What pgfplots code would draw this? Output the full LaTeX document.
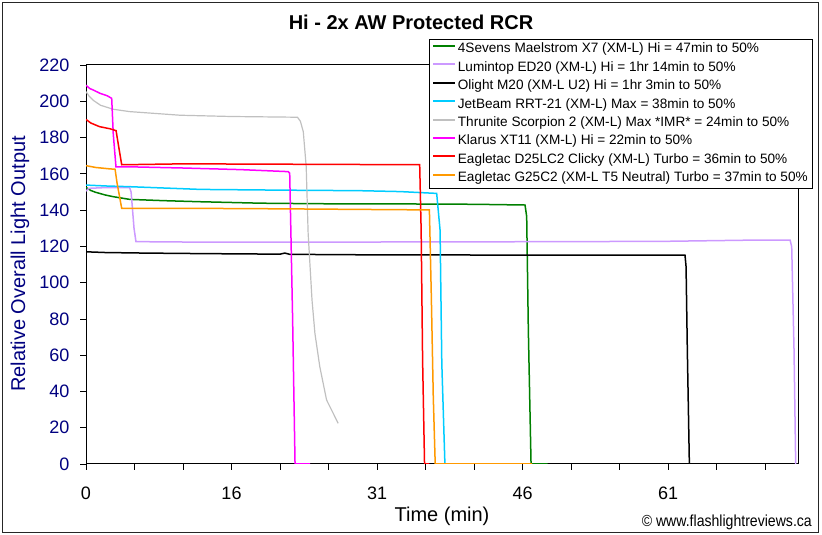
\documentclass[border=0pt]{standalone}
\usepackage{fontspec}
\setmainfont{Liberation Sans}
\usepackage{pgfplots}
\pgfplotsset{compat=1.18}
\definecolor{navy}{RGB}{0,0,128}
\definecolor{lgreen}{RGB}{0,128,0}
\definecolor{lav}{RGB}{204,153,255}
\definecolor{lcyan}{RGB}{0,204,255}
\definecolor{lgrey}{RGB}{192,192,192}
\definecolor{lorange}{RGB}{255,153,0}
\definecolor{lmagenta}{RGB}{255,0,255}

\begin{document}
\begin{tikzpicture}[x=1pt,y=1pt]
\useasboundingbox (0,0) rectangle (822,535);
\draw[line width=1.2pt, black!85] (2.5,2.5) rectangle (818.5,532.5);
\begin{axis}[
    at={(86pt,71pt)}, anchor=south west,
    scale only axis, width=712pt, height=399pt,
    xmin=0, xmax=73.4, ymin=0, ymax=220,
    xtick={0,15,30,45,60},
    xticklabels={0,16,31,46,61},
    minor xtick={5,10,20,25,35,40,50,55,65,70},
    ytick={0,20,...,220},
    tick pos=left, tick align=outside,
    major tick length=6pt, minor tick length=6pt,
    every tick/.style={black, line width=0.8pt},
    axis line style={black, line width=1pt},
    /pgf/number format/assume math mode=true,
    ticklabel style={font=\fontsize{18}{20}\selectfont},
    yticklabel style={text=navy, xshift=-7pt},
    xticklabel style={yshift=-13pt},
    legend style={at={(0.4817,1.065)}, anchor=north west,
        draw=black, line width=0.8pt, fill=white,
        font=\fontsize{13.6}{16}\selectfont,
        inner xsep=3pt, inner ysep=2pt, row sep=2.4pt,
        nodes={inner sep=1.5pt, text height=10pt, text depth=3pt}},
    legend cell align=left,
    legend image code/.code={\draw[#1, line width=2pt] (0pt,3.5pt) -- (22pt,3.5pt);},
    every axis plot/.append style={line width=1.5pt},
]
\addplot[lgreen] coordinates {
(0,152.5) (0.5,150.8) (1.0,149.8) (2.0,148.3) (2.8,147.4) (4.5,145.9) (8,145.2) (11.8,144.6) (18,143.8) (24,143.5) (32.4,143.4) (40,143.2) (45.26,142.8) (45.43,136.4) (45.6,73.9) (45.88,0) (47.6,0)
};
\addlegendentry{4Sevens Maelstrom X7 (XM-L) Hi = 47min to 50\%}
\addplot[lav] coordinates {
(0,150.5) (0.3,152) (2,152.4) (4.5,152.4) (4.65,150) (4.8,140) (4.95,130) (5.15,122.6) (10,122.4) (30,122.4) (50,122.6) (60,122.8) (69.5,123.5) (72.58,123.5) (72.75,119.8) (72.99,62.9) (73.16,0)
};
\addlegendentry{Lumintop ED20 (XM-L) Hi = 1hr 14min to 50\%}
\addplot[black] coordinates {
(0,117) (2,116.6) (6,116.3) (12,116) (20,115.7) (20.5,116.3) (21,115.6) (30,115.3) (45,115.2) (61.75,115.2) (61.86,108.8) (61.99,62.9) (62.2,0)
};
\addlegendentry{Olight M20 (XM-L U2) Hi = 1hr 3min to 50\%}
\addplot[lcyan] coordinates {
(0,153.8) (2,153.3) (4.5,152.9) (11.8,151.4) (20,151) (28.2,150.7) (32.4,150.2) (36.15,149.2) (36.5,129) (36.68,55.5) (37.0,0)
};
\addlegendentry{JetBeam RRT-21 (XM-L) Max = 38min to 50\%}
\addplot[lgrey, line width=1.2pt] coordinates {
(0,205.3) (0.3,203) (0.75,200.5) (1.5,197.8) (2.8,195.6) (4.5,194.3) (9.7,192.3) (15,191.6) (21.8,191.2) (22.1,189) (22.4,183.2) (22.7,164) (22.9,127.2) (23.3,90.4) (23.6,72) (24.1,53.7) (24.8,35.3) (26.0,22.4)
};
\addlegendentry{Thrunite Scorpion 2 (XM-L) Max *IMR* = 24min to 50\%}
\addplot[lmagenta] coordinates {
(0,208.8) (0.4,207) (0.75,206.2) (1.44,204.4) (2.2,203) (2.65,201.6) (2.81,182) (3.09,163.8) (5,163.8) (10,163.2) (16,162.3) (20.85,161.2) (21.0,160.3) (21.3,80) (21.55,0) (23.1,0)
};
\addlegendentry{Klarus XT11 (XM-L) Hi = 22min to 50\%}
\addplot[red] coordinates {
(0,190) (0.5,188) (1.4,186) (2.5,184.8) (3.1,183.8) (3.4,174) (3.68,165) (10,165.5) (20,165.3) (30,165.1) (34.4,165) (34.55,129) (34.7,57.3) (34.9,0) (35.4,0)
};
\addlegendentry{Eagletac D25LC2 Clicky (XM-L) Turbo = 36min to 50\%}
\addplot[lorange] coordinates {
(0,164.5) (1,163.5) (2.3,162.8) (3.0,162.5) (3.2,155) (3.68,141) (10,141) (20,140.7) (30,140.3) (35.4,140.1) (35.6,92.3) (35.8,37.1) (36.0,0) (46,0)
};
\addlegendentry{Eagletac G25C2 (XM-L T5 Neutral) Turbo = 37min to 50\%}
\end{axis}
\node[anchor=base, font=\bfseries\fontsize{20}{24}\selectfont] at (411,505) {Hi - 2x AW Protected RCR};
\node[anchor=base, font=\fontsize{20}{24}\selectfont] at (442,13) {Time (min)};
\node[anchor=center, rotate=90, text=navy, font=\fontsize{20}{24}\selectfont] at (20,271) {Relative Overall Light Output};
\node[anchor=base east, inner sep=0pt] at (812,8) {\fontsize{16}{18}\selectfont\scalebox{0.88}[1]{© www.flashlightreviews.ca}};
\end{tikzpicture}
\end{document}
